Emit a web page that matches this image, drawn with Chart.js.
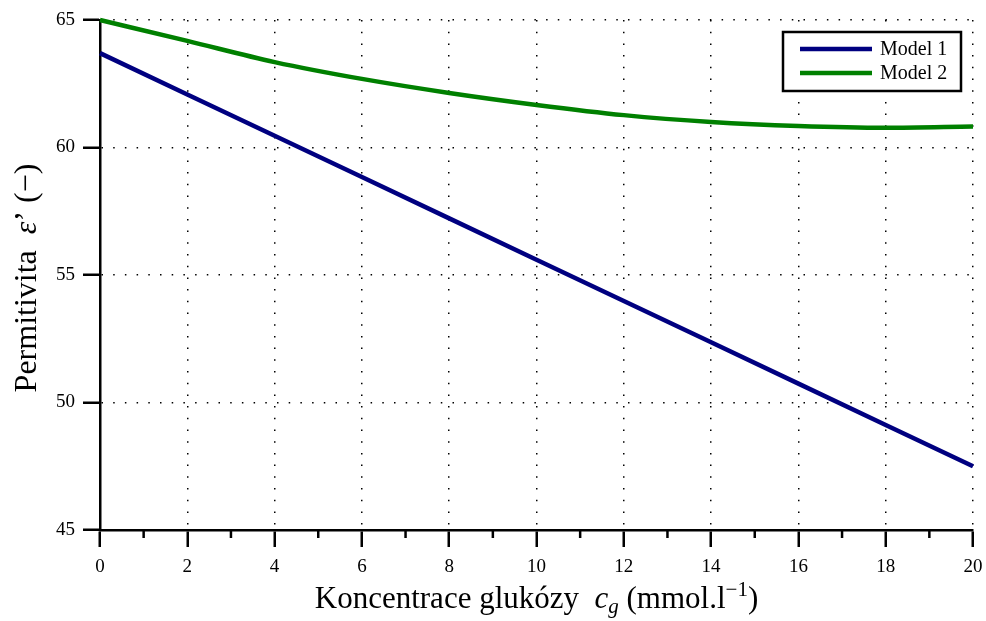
<!DOCTYPE html>
<html>
<head>
<meta charset="utf-8">
<script src="https://cdn.jsdelivr.net/npm/chart.js@4/dist/chart.umd.min.js"></script>
<style>
  html, body { margin: 0; padding: 0; background: #fff; }
  #wrap { width: 986px; height: 621px; }
</style>
</head>
<body>
<div id="wrap"><canvas id="graf"></canvas></div>
<script>
// koncentrace glukozy (mmol/l)
var koncentrace = [0, 2, 4, 6, 8, 10, 12, 14, 16, 18, 20];
// permitivita
var model1 = [63.7, 62.08, 60.46, 58.84, 57.22, 55.6, 53.98, 52.36, 50.74, 49.12, 47.5];
var model2 = [65.0, 64.18, 63.35, 62.69, 62.14, 61.67, 61.27, 61.0, 60.84, 60.77, 60.82];
var nazvy = ["Model 1", "Model 2"];
var barvy = ["#000080", "#008000"];
var xTicks = [0, 2, 4, 6, 8, 10, 12, 14, 16, 18, 20];
var yTicks = [45, 50, 55, 60, 65];

var serif = '"Liberation Serif", "DejaVu Serif", serif';

function body(arr) {
  return koncentrace.map(function(x, i) { return { x: x, y: arr[i] }; });
}

// male carky na ose x, legenda a popisky os
var doplnky = {
  id: 'doplnky',
  afterDraw: function(chart) {
    var ctx = chart.ctx;
    var ca = chart.chartArea;
    var sx = chart.scales.x;
    ctx.save();
    ctx.strokeStyle = '#000';
    ctx.lineWidth = 2.5;
    for (var v = 1; v < 20; v += 2) {
      var px = sx.getPixelForValue(v);
      ctx.beginPath();
      ctx.moveTo(px, ca.bottom);
      ctx.lineTo(px, ca.bottom + 8);
      ctx.stroke();
    }

    // legenda
    var lx = ca.right - 190, ly = ca.top + 12;
    ctx.lineWidth = 2.5;
    ctx.strokeStyle = '#000';
    ctx.fillStyle = '#fff';
    ctx.beginPath();
    ctx.rect(lx, ly, 178, 59);
    ctx.fill();
    ctx.stroke();
    ctx.font = '20px ' + serif;
    ctx.textBaseline = 'middle';
    ctx.textAlign = 'left';
    chart.data.datasets.forEach(function(ds, i) {
      var yy = ly + 17 + i * 24;
      ctx.strokeStyle = ds.borderColor;
      ctx.lineWidth = 4.5;
      ctx.beginPath();
      ctx.moveTo(lx + 17, yy);
      ctx.lineTo(lx + 89, yy);
      ctx.stroke();
      ctx.fillStyle = '#000';
      ctx.fillText(ds.label, lx + 97, yy + 1);
    });

    // popisek osy x
    var casti = [
      { t: 'Koncentrace glukózy  ', f: '31px ' + serif, dy: 0 },
      { t: 'c', f: 'italic 31px ' + serif, dy: 0 },
      { t: 'g', f: 'italic 21px ' + serif, dy: 5 },
      { t: ' (mmol.l', f: '31px ' + serif, dy: 0 },
      { t: '\u22121', f: '21px ' + serif, dy: -12 },
      { t: ')', f: '31px ' + serif, dy: 0 }
    ];
    kresliText(ctx, casti, (ca.left + ca.right) / 2, 608);

    // popisek osy y
    ctx.save();
    ctx.translate(36, (ca.top + ca.bottom) / 2 + 3);
    ctx.rotate(-Math.PI / 2);
    var castiY = [
      { t: 'Permitivita  ', f: '32px ' + serif, dy: 0 },
      { t: '\u03B5', f: 'italic 32px ' + serif, dy: 0 },
      { t: '\u2019 (\u2212)', f: '32px ' + serif, dy: 0 }
    ];
    kresliText(ctx, castiY, 0, 0);
    ctx.restore();
    ctx.restore();
  }
};

function kresliText(ctx, casti, cx, baseline) {
  var sirka = 0;
  casti.forEach(function(c) { ctx.font = c.f; sirka += ctx.measureText(c.t).width; });
  var x = cx - sirka / 2;
  ctx.fillStyle = '#000';
  ctx.textAlign = 'left';
  ctx.textBaseline = 'alphabetic';
  casti.forEach(function(c) {
    ctx.font = c.f;
    ctx.fillText(c.t, x, baseline + c.dy);
    x += ctx.measureText(c.t).width;
  });
}

var graf = new Chart(document.getElementById('graf').getContext('2d'), {
  type: 'line',
  data: {
    datasets: [{
      label: nazvy[0],
      data: body(model1),
      borderColor: barvy[0],
      borderWidth: 4.5,
      pointRadius: 0,
      tension: 0,
      clip: false
    }, {
      label: nazvy[1],
      data: body(model2),
      borderColor: barvy[1],
      borderWidth: 4.5,
      pointRadius: 0,
      cubicInterpolationMode: 'monotone',
      clip: false
    }]
  },
  options: {
    responsive: true,
    maintainAspectRatio: false,
    animation: false,
    layout: { padding: { left: 0, right: 13, top: 20, bottom: 0 } },
    plugins: { legend: { display: false }, tooltip: { enabled: false } },
    scales: {
      x: {
        type: 'linear',
        min: 0, max: 20,
        afterFit: function(s) { s.height = 91; s.paddingRight = 0; s.paddingLeft = 0; },
        afterBuildTicks: function(s) { s.ticks = xTicks.map(function(v) { return { value: v }; }); },
        ticks: { font: { family: serif, size: 19 }, color: '#000', padding: 9, maxRotation: 0 },
        grid: { color: '#000', lineWidth: 1.5, tickLength: 17, tickWidth: 2.5, tickColor: '#000' },
        border: { display: true, color: '#000', width: 2.5, dash: [1.5, 10.2] }
      },
      y: {
        min: 45, max: 65,
        afterFit: function(s) { s.width = 100; },
        afterBuildTicks: function(s) { s.ticks = yTicks.map(function(v) { return { value: v }; }); },
        ticks: { font: { family: serif, size: 19 }, color: '#000', padding: 8 },
        grid: { color: '#000', lineWidth: 1.5, tickLength: 17, tickWidth: 2.5, tickColor: '#000' },
        border: { display: true, color: '#000', width: 2.5, dash: [1.5, 10.2] }
      }
    }
  },
  plugins: [doplnky]
});
</script>
</body>
</html>
